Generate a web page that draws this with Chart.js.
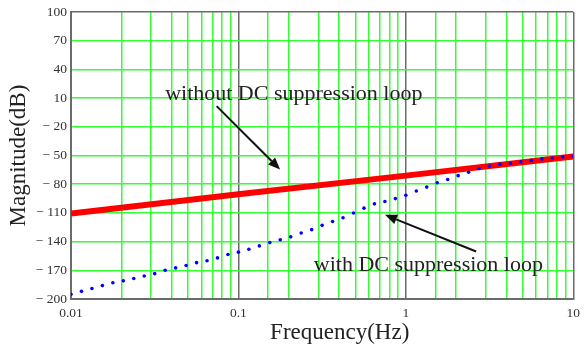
<!DOCTYPE html>
<html>
<head>
<meta charset="utf-8">
<script src="https://cdn.jsdelivr.net/npm/chart.js@4"></script>
<style>
  html, body { margin: 0; padding: 0; background: #ffffff; }
  #wrap { width: 586px; height: 361px; }
</style>
</head>
<body>
<div id="wrap"><canvas id="myChart" width="586" height="361"></canvas></div>
<script>
// frequency grid of the dotted curve: 16 points per decade, 0.01 .. 10 Hz
const blueExp = [];
for (let i = 0; i <= 48; i++) blueExp.push(-2 + i / 16);

// magnitude with DC suppression loop (dB)
const withLoop = [
    -195, -192, -189, -186, -183, -181, -178.5, -176, -173.5, -170,
    -167.5, -165, -162, -160, -157, -153.5, -151, -148, -144.5, -141,
    -138, -135, -131, -127.5, -123, -119, -115, -110, -105, -100.5,
    -98, -95, -91.5, -87, -83, -78.5, -75, -71, -67.5, -63.5,
    -61, -59, -58, -56.5, -55, -53.5, -52.5, -51.5, -50.5
];

// magnitude without DC suppression loop (dB)
const redFreq = [0.01, 0.1, 1, 10];
const withoutLoop = [-110.5, -90.5, -71, -51];

// annotation texts and arrows, in data units (Hz, dB)
const noteTexts = ["without DC suppression loop", "with DC suppression loop"];
const noteTextPos = [[0.0365, 8], [0.282, -171]];
const arrowFrom = [[0.0741, 1.7], [2.63, -150.3]];
const arrowTo = [[0.1774, -64.5], [0.751, -112]];

const xTitle = 'Frequency(Hz)';
const yTitle = 'Magnitude(dB)';

const isDecade = v => Math.abs(Math.log10(v) - Math.round(Math.log10(v))) < 1e-6;
const GREEN = '#33ff33';
const FRAME = '#6b6b6b';
const SERIF = "'Liberation Serif', 'Times New Roman', serif";

const notes = {
    id: 'notes',
    afterDatasetsDraw(chart) {
        const { ctx, chartArea, scales: { x, y } } = chart;
        ctx.save();
        ctx.fillStyle = '#222222';
        ctx.font = '22px ' + SERIF;
        ctx.textBaseline = 'alphabetic';
        ctx.textAlign = 'left';
        noteTexts.forEach((t, i) => {
            ctx.fillText(t, x.getPixelForValue(noteTextPos[i][0]), y.getPixelForValue(noteTextPos[i][1]));
        });

        // axis titles
        ctx.font = '23px ' + SERIF;
        ctx.textAlign = 'center';
        ctx.textBaseline = 'middle';
        ctx.fillText(xTitle, chartArea.left + (chartArea.right - chartArea.left) * 0.535, chartArea.bottom + 34);
        ctx.save();
        ctx.translate(19, (chartArea.top + chartArea.bottom) / 2);
        ctx.rotate(-Math.PI / 2);
        ctx.fillText(yTitle, 0, 0);
        ctx.restore();

        ctx.strokeStyle = '#111111';
        ctx.fillStyle = '#111111';
        ctx.lineWidth = 2;
        arrowFrom.forEach((a, i) => {
            const x0 = x.getPixelForValue(a[0]), y0 = y.getPixelForValue(a[1]);
            const x1 = x.getPixelForValue(arrowTo[i][0]), y1 = y.getPixelForValue(arrowTo[i][1]);
            const ang = Math.atan2(y1 - y0, x1 - x0);
            const hl = 12, hw = 5;
            const bx = x1 - hl * Math.cos(ang), by = y1 - hl * Math.sin(ang);
            ctx.beginPath();
            ctx.moveTo(x0, y0);
            ctx.lineTo(bx, by);
            ctx.stroke();
            ctx.beginPath();
            ctx.moveTo(x1, y1);
            ctx.lineTo(bx + hw * Math.sin(ang), by - hw * Math.cos(ang));
            ctx.lineTo(bx - hw * Math.sin(ang), by + hw * Math.cos(ang));
            ctx.closePath();
            ctx.fill();
        });
        ctx.restore();
    }
};

const chart = new Chart("myChart", {
    type: "line",
    plugins: [notes],
    data: {
        datasets: [
            {
                label: 'with DC suppression loop',
                data: blueExp.map((e, i) => ({ x: Math.pow(10, e), y: withLoop[i] })),
                showLine: false,
                borderColor: '#0000ff',
                backgroundColor: '#0000ff',
                pointRadius: 1.8,
                pointBorderWidth: 0
            },
            {
                label: 'without DC suppression loop',
                data: redFreq.map((f, i) => ({ x: f, y: withoutLoop[i] })),
                borderColor: '#ff0000',
                backgroundColor: '#ff0000',
                borderWidth: 6,
                pointRadius: 0,
                tension: 0
            }
        ]
    },
    options: {
        responsive: false,
        animation: false,
        events: [],
        layout: { padding: { top: 8, right: 8, left: 0, bottom: 0 } },
        plugins: {
            legend: { display: false },
            tooltip: { enabled: false }
        },
        scales: {
            x: {
                type: 'logarithmic',
                min: 0.01,
                max: 10,
                afterFit: s => { s.height = 62; },
                border: { display: true, color: FRAME, width: 2 },
                grid: {
                    color: c => (c.tick && isDecade(c.tick.value)) ? FRAME : GREEN,
                    lineWidth: 1.5,
                    drawTicks: false
                },
                ticks: {
                    autoSkip: false,
                    maxRotation: 0,
                    padding: 6,
                    color: '#333333',
                    font: { family: SERIF, size: 13.5 },
                    callback: v => isDecade(v) ? String(Number(v.toPrecision(3))) : ''
                }
            },
            y: {
                min: -200,
                max: 100,
                afterFit: s => { s.width = 71; },
                border: { display: true, color: FRAME, width: 2 },
                grid: {
                    color: c => (c.tick && (c.tick.value === -200 || c.tick.value === 100)) ? FRAME : GREEN,
                    lineWidth: 1.5,
                    drawTicks: false
                },
                ticks: {
                    stepSize: 30,
                    padding: 4,
                    color: '#333333',
                    font: { family: SERIF, size: 13.5 },
                    callback: v => v < 0 ? '\u2212 ' + Math.abs(v) : String(v)
                }
            }
        }
    }
});
</script>
</body>
</html>
